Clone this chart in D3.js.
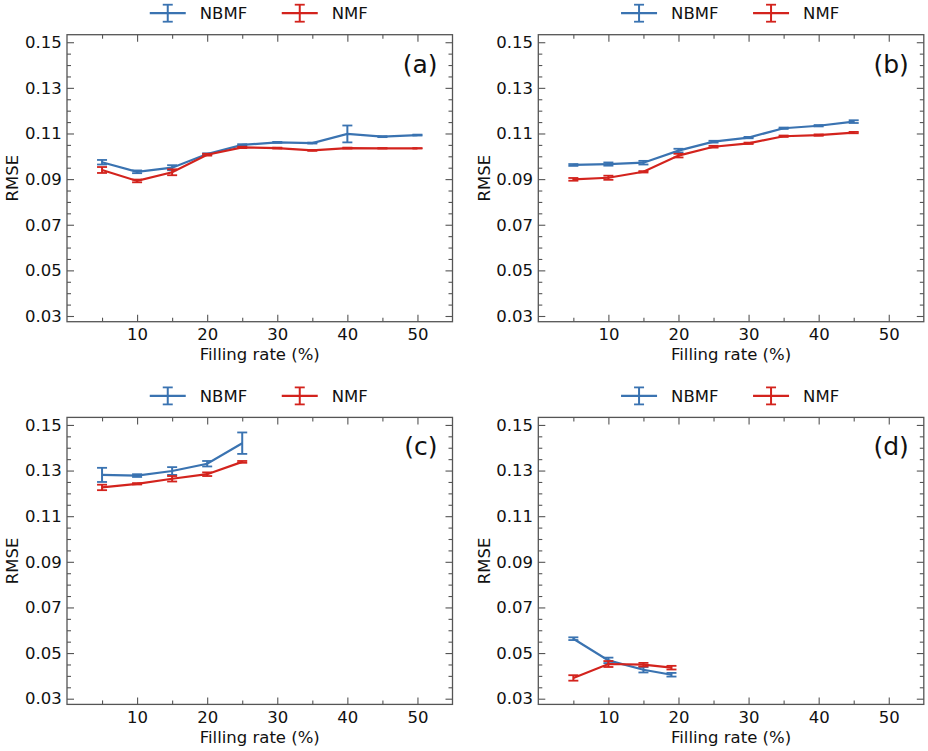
<!DOCTYPE html>
<html>
<head>
<meta charset="UTF-8">
<script src="https://cdn.jsdelivr.net/npm/d3@7"></script>
<style>
  body { margin: 0; background: #fff; }
  svg text { font-family: "DejaVu Sans", sans-serif; fill: #111; }
</style>
</head>
<body>
<div id="chart"></div>
<script>
// filling rates (%)
var fillAll = [5, 10, 15, 20, 25, 30, 35, 40, 45, 50];
var fillB = [5, 10, 15, 20, 25, 30, 35, 40, 45];
var fillC = [5, 10, 15, 20, 25];
var fillD = [5, 10, 15, 19];

// (a)
var nbmfA    = [0.0974, 0.0932, 0.0950, 0.1010, 0.1050, 0.1061, 0.1058, 0.1098, 0.1086, 0.1093];
var nbmfAErr = [0.0010, 0.0006, 0.0011, 0.0003, 0.0003, 0.0002, 0.0002, 0.0037, 0.0002, 0.0002];
var nmfA     = [0.0940, 0.0892, 0.0930, 0.1007, 0.1039, 0.1036, 0.1026, 0.1036, 0.1035, 0.1035];
var nmfAErr  = [0.0013, 0.0006, 0.0013, 0.0004, 0.0003, 0.0002, 0.0002, 0.0002, 0.0001, 0.0001];

// (b)
var nbmfB    = [0.0962, 0.0966, 0.0972, 0.1025, 0.1064, 0.1082, 0.1123, 0.1134, 0.1152];
var nbmfBErr = [0.0004, 0.0007, 0.0008, 0.0008, 0.0004, 0.0003, 0.0003, 0.0003, 0.0006];
var nmfB     = [0.0899, 0.0906, 0.0932, 0.1003, 0.1042, 0.1057, 0.1088, 0.1093, 0.1104];
var nmfBErr  = [0.0006, 0.0009, 0.0003, 0.0008, 0.0004, 0.0003, 0.0003, 0.0003, 0.0003];

// (c)
var nbmfC    = [0.1281, 0.1278, 0.1298, 0.1330, 0.1420];
var nbmfCErr = [0.0031, 0.0006, 0.0017, 0.0012, 0.0047];
var nmfC     = [0.1226, 0.1242, 0.1264, 0.1284, 0.1338];
var nmfCErr  = [0.0012, 0.0003, 0.0012, 0.0008, 0.0004];

// (d)
var nbmfD    = [0.0563, 0.0468, 0.0427, 0.0405];
var nbmfDErr = [0.0006, 0.0012, 0.0012, 0.0008];
var nmfD     = [0.0391, 0.0452, 0.0449, 0.0436];
var nmfDErr  = [0.0012, 0.0013, 0.0008, 0.0008];

var seriesNames = ["NBMF", "NMF"];
var colors = ["#3a73b1", "#d3231d"];
var xTicks = [10, 20, 30, 40, 50];
var xMinor = [5, 15, 25, 35, 45];
var yTicks = [0.03, 0.05, 0.07, 0.09, 0.11, 0.13, 0.15];
var yTickLabels = ["0.03", "0.05", "0.07", "0.09", "0.11", "0.13", "0.15"];
var panelLabels = ["(a)", "(b)", "(c)", "(d)"];

var panels = [
	{x: fillAll, s: [[nbmfA, nbmfAErr], [nmfA, nmfAErr]]},
	{x: fillB,   s: [[nbmfB, nbmfBErr], [nmfB, nmfBErr]]},
	{x: fillC,   s: [[nbmfC, nbmfCErr], [nmfC, nmfCErr]]},
	{x: fillD,   s: [[nbmfD, nbmfDErr], [nmfD, nmfDErr]]}
];

var W = 928, H = 751;
var lefts = [67, 538.3], tops = [34.7, 417.4];
var pw = 385.5, ph = 287;
var axisColor = "#555";
var fs = 16.5;

var svg = d3.select("#chart").append("svg")
	.attr("width", W)
	.attr("height", H);

var x = d3.scaleLinear().domain([0, 55]).range([0, pw]);
var y = d3.scaleLinear().domain([0.0275, 0.1533]).range([ph, 0]);
var yMinor = d3.range(0.035, 0.1501, 0.005).filter(v => Math.abs((v - 0.03) / 0.02 - Math.round((v - 0.03) / 0.02)) > 0.01);

panels.forEach(function(p, i) {
	var g = svg.append("g")
		.attr("transform", "translate(" + lefts[i % 2] + "," + tops[Math.floor(i / 2)] + ")");

	// ticks on all sides, pointing inwards
	var ax = function(gen, t, size, minor) {
		var a = gen.tickValues(t).tickSize(size).tickSizeOuter(0);
		if (minor) a.tickFormat("");
		return a;
	};
	g.append("g").attr("transform", "translate(0," + ph + ")")
		.call(ax(d3.axisBottom(x), xTicks, -7).tickFormat(d3.format("d")).tickPadding(6.6));
	g.append("g").attr("transform", "translate(0," + ph + ")").call(ax(d3.axisBottom(x), xMinor, -4, true));
	g.append("g").call(ax(d3.axisTop(x), xTicks, -7, true));
	g.append("g").call(ax(d3.axisTop(x), xMinor, -4, true));
	g.append("g").call(ax(d3.axisLeft(y), yTicks, -7).tickFormat((d, k) => yTickLabels[k]).tickPadding(5.3));
	g.append("g").call(ax(d3.axisLeft(y), yMinor, -4, true));
	g.append("g").attr("transform", "translate(" + pw + ",0)").call(ax(d3.axisRight(y), yTicks, -7, true));
	g.append("g").attr("transform", "translate(" + pw + ",0)").call(ax(d3.axisRight(y), yMinor, -4, true));
	g.selectAll(".domain").remove();
	g.selectAll(".tick line").attr("stroke", axisColor).attr("stroke-width", 1.1);
	g.selectAll(".tick text").attr("font-size", fs).attr("fill", "#111");

	g.append("rect")
		.attr("width", pw).attr("height", ph)
		.attr("fill", "none").attr("stroke", axisColor).attr("stroke-width", 1.3);

	// series
	p.s.forEach(function(sd, k) {
		var pts = p.x.map((v, j) => ({x: v, y: sd[0][j], e: sd[1][j]}));
		var c = colors[k];
		g.append("path")
			.datum(pts)
			.attr("fill", "none")
			.attr("stroke", c)
			.attr("stroke-width", 2.2)
			.attr("d", d3.line().x(d => x(d.x)).y(d => y(d.y)));
		var eb = g.append("g").selectAll("g").data(pts).enter().append("g");
		eb.append("line")
			.attr("x1", d => x(d.x)).attr("x2", d => x(d.x))
			.attr("y1", d => y(d.y - d.e)).attr("y2", d => y(d.y + d.e))
			.attr("stroke", c).attr("stroke-width", 2);
		[-1, 1].forEach(function(sgn) {
			eb.append("line")
				.attr("x1", d => x(d.x) - 5).attr("x2", d => x(d.x) + 5)
				.attr("y1", d => y(d.y + sgn * d.e)).attr("y2", d => y(d.y + sgn * d.e))
				.attr("stroke", c).attr("stroke-width", 1.8);
		});
	});

	// panel label
	g.append("text")
		.attr("x", pw - 15).attr("y", 38)
		.attr("text-anchor", "end")
		.attr("font-size", 25)
		.text(panelLabels[i]);

	// axis labels
	g.append("text")
		.attr("x", pw / 2).attr("y", ph + 38.3)
		.attr("text-anchor", "middle")
		.attr("font-size", fs)
		.text("Filling rate (%)");
	g.append("text")
		.attr("transform", "translate(-48.7," + (ph / 2) + ") rotate(-90)")
		.attr("text-anchor", "middle")
		.attr("font-size", fs)
		.text("RMSE");

	// legend above the panel
	var leg = g.append("g").attr("transform", "translate(" + (pw / 2 - 110) + ",-21.5)");
	var offs = [0, 132];
	seriesNames.forEach(function(name, k) {
		var li = leg.append("g").attr("transform", "translate(" + offs[k] + ",0)");
		li.append("line").attr("x1", 0).attr("x2", 36).attr("stroke", colors[k]).attr("stroke-width", 2.2);
		li.append("line").attr("x1", 18).attr("x2", 18).attr("y1", -8.5).attr("y2", 8.5).attr("stroke", colors[k]).attr("stroke-width", 2);
		li.append("line").attr("x1", 13).attr("x2", 23).attr("y1", -8.5).attr("y2", -8.5).attr("stroke", colors[k]).attr("stroke-width", 1.8);
		li.append("line").attr("x1", 13).attr("x2", 23).attr("y1", 8.5).attr("y2", 8.5).attr("stroke", colors[k]).attr("stroke-width", 1.8);
		li.append("text").attr("x", 50).attr("y", 6).attr("font-size", fs).text(name);
	});
});
</script>
</body>
</html>
